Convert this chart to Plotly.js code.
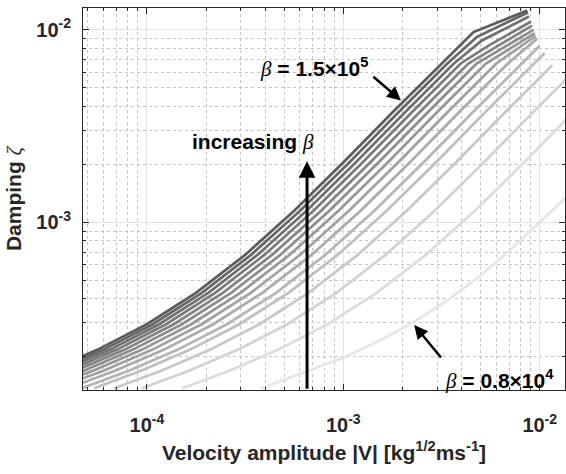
<!DOCTYPE html>
<html>
<head>
<meta charset="utf-8">
<script src="https://cdn.plot.ly/plotly-3.0.1.min.js"></script>
<style>html,body{margin:0;padding:0;background:#fff;}#chart{width:566px;height:474px;}</style>
</head>
<body>
<div id="chart"></div>
<script>
// beta values (top curve = largest beta)
const betaValues = [1.5e5, 1.4e5, 1.3e5, 1.2e5, 1.1e5, 1.0e5, 0.9e5, 0.8e5, 0.7e5, 0.6e5, 0.5e5, 0.4e5, 0.3e5, 0.2e5, 0.8e4];

// velocity amplitude |V| and damping zeta for each curve
const v01 = [1.82e-5,3.162e-5,5.623e-5,1.0e-4,1.778e-4,3.162e-4,5.623e-4,1.0e-3,1.778e-3,3.162e-3,4.603e-3,8.65e-3];
const z01 = [1.371e-4,1.69e-4,2.178e-4,2.951e-4,4.295e-4,6.761e-4,1.148e-3,2.042e-3,3.715e-3,6.683e-3,9.727e-3,1.259e-2];
const v02 = [1.95e-5,3.388e-5,6.025e-5,1.072e-4,1.905e-4,3.388e-4,6.025e-4,1.072e-3,1.905e-3,3.388e-3,4.80e-3,8.71e-3];
const z02 = [1.371e-4,1.69e-4,2.178e-4,2.951e-4,4.295e-4,6.761e-4,1.148e-3,2.042e-3,3.715e-3,6.683e-3,9.2e-3,1.23e-2];
const v03 = [2.104e-5,3.656e-5,6.501e-5,1.156e-4,2.056e-4,3.656e-4,6.501e-4,1.156e-3,2.056e-3,3.656e-3,5.08e-3,8.82e-3];
const z03 = [1.371e-4,1.69e-4,2.178e-4,2.951e-4,4.295e-4,6.761e-4,1.148e-3,2.042e-3,3.715e-3,6.683e-3,8.8e-3,1.172e-2];
const v04 = [2.281e-5,3.962e-5,7.046e-5,1.253e-4,2.228e-4,3.962e-4,7.046e-4,1.253e-3,2.228e-3,3.962e-3,5.52e-3,9.04e-3];
const z04 = [1.371e-4,1.69e-4,2.178e-4,2.951e-4,4.295e-4,6.761e-4,1.148e-3,2.042e-3,3.715e-3,6.683e-3,8.3e-3,1.104e-2];
const v05 = [2.495e-5,4.335e-5,7.709e-5,1.371e-4,2.438e-4,4.335e-4,7.709e-4,1.371e-3,2.438e-3,4.335e-3,9.14e-3];
const z05 = [1.371e-4,1.69e-4,2.178e-4,2.951e-4,4.295e-4,6.761e-4,1.148e-3,2.042e-3,3.715e-3,6.683e-3,1.052e-2];
const v06 = [2.748e-5,4.775e-5,8.491e-5,1.51e-4,2.685e-4,4.775e-4,8.491e-4,1.51e-3,2.685e-3,4.775e-3,9.3e-3];
const z06 = [1.371e-4,1.69e-4,2.178e-4,2.951e-4,4.295e-4,6.761e-4,1.148e-3,2.042e-3,3.715e-3,6.683e-3,1.0e-2];
const v07 = [3.062e-5,5.321e-5,9.462e-5,1.683e-4,2.992e-4,5.321e-4,9.462e-4,1.683e-3,2.992e-3,5.321e-3,9.45e-3];
const z07 = [1.371e-4,1.69e-4,2.178e-4,2.951e-4,4.295e-4,6.761e-4,1.148e-3,2.042e-3,3.715e-3,6.683e-3,9.6e-3];
const v08 = [3.46e-5,6.012e-5,1.069e-4,1.901e-4,3.38e-4,6.012e-4,1.069e-3,1.901e-3,3.38e-3,6.012e-3,9.55e-3];
const z08 = [1.371e-4,1.69e-4,2.178e-4,2.951e-4,4.295e-4,6.761e-4,1.148e-3,2.042e-3,3.715e-3,6.683e-3,9.3e-3];
const v09 = [3.963e-5,6.886e-5,1.225e-4,2.178e-4,3.872e-4,6.886e-4,1.225e-3,2.178e-3,3.872e-3,6.886e-3,9.7e-3];
const z09 = [1.371e-4,1.69e-4,2.178e-4,2.951e-4,4.295e-4,6.761e-4,1.148e-3,2.042e-3,3.715e-3,6.683e-3,9.0e-3];
const v10 = [4.657e-5,8.091e-5,1.439e-4,2.559e-4,4.549e-4,8.091e-4,1.439e-3,2.559e-3,4.549e-3,8.091e-3,1.0e-2];
const z10 = [1.371e-4,1.69e-4,2.178e-4,2.951e-4,4.295e-4,6.761e-4,1.148e-3,2.042e-3,3.715e-3,6.683e-3,8.26e-3];
const v11 = [5.384e-5,9.353e-5,1.663e-4,2.958e-4,5.259e-4,9.353e-4,1.663e-3,2.958e-3,5.259e-3,9.353e-3,1.06e-2];
const z11 = [1.371e-4,1.69e-4,2.178e-4,2.951e-4,4.295e-4,6.761e-4,1.148e-3,2.042e-3,3.715e-3,6.683e-3,7.57e-3];
const v12 = [6.809e-5,1.183e-4,2.104e-4,3.741e-4,6.652e-4,1.183e-3,2.104e-3,3.741e-3,6.652e-3,1.16e-2];
const z12 = [1.371e-4,1.69e-4,2.178e-4,2.951e-4,4.295e-4,6.761e-4,1.148e-3,2.042e-3,3.715e-3,6.55e-3];
const v13 = [9.442e-5,1.64e-4,2.917e-4,5.188e-4,9.224e-4,1.64e-3,2.917e-3,5.188e-3,9.224e-3,1.64e-2];
const z13 = [1.371e-4,1.69e-4,2.178e-4,2.951e-4,4.295e-4,6.761e-4,1.148e-3,2.042e-3,3.715e-3,6.683e-3];
const v14 = [1.514e-4,2.63e-4,4.677e-4,8.318e-4,1.479e-3,2.63e-3,4.677e-3,8.318e-3,1.479e-2];
const z14 = [1.371e-4,1.69e-4,2.178e-4,2.951e-4,4.295e-4,6.761e-4,1.148e-3,2.042e-3,3.715e-3];
const v15 = [3.82e-4,5.97e-4,9.92e-4,1.5e-3,2.25e-3,3.3e-3,4.91e-3,7.0e-3,1.0e-2,1.345e-2,2.0e-2];
const z15 = [1.37e-4,1.62e-4,1.97e-4,2.4e-4,3.0e-4,3.85e-4,5.2e-4,7.1e-4,1.0e-3,1.32e-3,1.95e-3];

const xTickVals = [1e-4, 1e-3, 1e-2];
const xTickText = ['10<sup>-4</sup>', '10<sup>-3</sup>', '10<sup>-2</sup>'];
const yTickVals = [1e-3, 1e-2];
const yTickText = ['10<sup>-3</sup>', '10<sup>-2</sup>'];

const velocity = [v01,v02,v03,v04,v05,v06,v07,v08,v09,v10,v11,v12,v13,v14,v15];
const damping  = [z01,z02,z03,z04,z05,z06,z07,z08,z09,z10,z11,z12,z13,z14,z15];

function minorVals(d0, d1) {
  const out = [];
  for (let d = d0; d <= d1; d++) for (let k = 2; k <= 9; k++) out.push(k * Math.pow(10, d));
  return out;
}

const n = velocity.length;
const traces = [];
for (let i = n - 1; i >= 0; i--) {
  const g = Math.round(92 + (230 - 92) * i / (n - 1));
  traces.push({
    x: velocity[i], y: damping[i], type: 'scatter', mode: 'lines',
    name: 'β = ' + betaValues[i],
    line: {color: `rgb(${g},${g},${g})`, width: 2.7},
    showlegend: false, hoverinfo: 'skip'
  });
}

const font = 'Liberation Sans, Arial, sans-serif';
const axisCommon = {
  type: 'log', showline: true, linecolor: '#262626', linewidth: 1, mirror: 'allticks',
  ticks: 'inside', ticklen: 6, tickwidth: 1, tickcolor: '#262626',
  showgrid: true, gridcolor: '#e3e3e3', gridwidth: 1, zeroline: false,
  tickmode: 'array',
  tickfont: {family: font, size: 20, color: '#262626', weight: 'bold'},
  automargin: false
};

const betaSpan = '<span style="font-family:Liberation Serif,serif;font-style:italic;font-weight:normal">β</span>';
const zetaSpan = '<span style="font-family:Liberation Serif,serif;font-style:italic;font-weight:normal">ζ</span>';

const layout = {
  width: 566, height: 474,
  margin: {l: 83, r: 1, t: 8, b: 84},
  paper_bgcolor: '#ffffff', plot_bgcolor: '#ffffff',
  showlegend: false,
  font: {family: font, color: '#262626'},
  xaxis: Object.assign({}, axisCommon, {
    range: [Math.log10(4.73e-5), Math.log10(1.345e-2)],
    tickvals: xTickVals, ticktext: xTickText, ticklabelstandoff: 17,
    minor: {tickmode: 'array', tickvals: minorVals(-5, -2), ticks: 'inside', ticklen: 3, tickcolor: '#262626',
            showgrid: true, gridcolor: '#c4c4c4', griddash: 'dot', gridwidth: 1},
    title: {text: 'Velocity amplitude |V| [kg<sup>1/2</sup>ms<sup>-1</sup>]', standoff: 10,
            font: {family: font, size: 21, color: '#262626', weight: 'bold'}}
  }),
  yaxis: Object.assign({}, axisCommon, {
    range: [Math.log10(1.343e-4), Math.log10(1.298e-2)],
    tickvals: yTickVals, ticktext: yTickText, ticklabelstandoff: 7,
    minor: {tickmode: 'array', tickvals: minorVals(-4, -2), ticks: 'inside', ticklen: 3, tickcolor: '#262626',
            showgrid: true, gridcolor: '#c4c4c4', griddash: 'dot', gridwidth: 1},
    title: {text: 'Damping ' + zetaSpan, standoff: 8,
            font: {family: font, size: 21, color: '#262626', weight: 'bold'}}
  }),
  annotations: [
    {xref: 'x', yref: 'y', x: -3.150, y: -2.1957, text: betaSpan + ' = 1.5×10<sup>5</sup>', showarrow: false,
     font: {family: font, size: 21, color: '#000', weight: 'bold'}, xanchor: 'center', yanchor: 'middle'},
    {xref: 'x', yref: 'y', x: -2.7066, y: -2.3669, ax: -29, ay: -25, text: '', showarrow: true,
     arrowhead: 2, arrowsize: 1.1, arrowwidth: 2.5, arrowcolor: '#000'},
    {xref: 'x', yref: 'y', x: -3.458, y: -2.583, text: 'increasing ' + betaSpan, showarrow: false,
     font: {family: font, size: 21, color: '#000', weight: 'bold'}, xanchor: 'center', yanchor: 'middle'},
    {xref: 'x', yref: 'y', x: -3.1845, y: -2.683, ax: 0, ay: 229, text: '', showarrow: true,
     arrowhead: 2, arrowsize: 1.1, arrowwidth: 3, arrowcolor: '#000'},
    {xref: 'x', yref: 'y', x: -2.2044, y: -3.815, text: betaSpan + ' = 0.8×10<sup>4</sup>', showarrow: false,
     font: {family: font, size: 21, color: '#000', weight: 'bold'}, xanchor: 'center', yanchor: 'middle'},
    {xref: 'x', yref: 'y', x: -2.639, y: -3.5345, ax: 28, ay: 34, text: '', showarrow: true,
     arrowhead: 2, arrowsize: 1.1, arrowwidth: 2.5, arrowcolor: '#000'}
  ]
};

Plotly.newPlot('chart', traces, layout, {displayModeBar: false, staticPlot: true});
</script>
</body>
</html>
